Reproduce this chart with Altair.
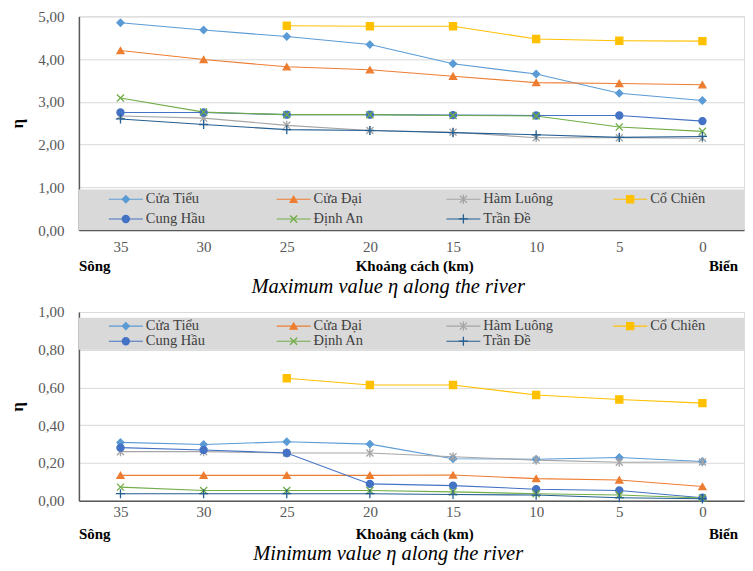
import altair as alt
import pandas as pd

km = [35, 30, 25, 20, 15, 10, 5, 0]
series = ["Cửa Tiểu", "Cửa Đại", "Hàm Luông", "Cổ Chiên", "Cung Hầu", "Định An", "Trần Đề"]
colors = ["#5B9BD5", "#ED7D31", "#A5A5A5", "#FFC000", "#4472C4", "#70AD47", "#255E91"]
ASTER = "M-1,-1L1,1M-1,1L1,-1M0,-1.3L0,1.3"
XSHAPE = "M-1,-1L1,1M-1,1L1,-1"
PLUS = "M-1.3,0L1.3,0M0,-1.3L0,1.3"
shapes = ["diamond", "triangle-up", ASTER, "square", "circle", XSHAPE, PLUS]

# Maximum values
max_cua_tieu = [4.85, 4.68, 4.53, 4.34, 3.89, 3.65, 3.20, 3.03]
max_cua_dai = [4.20, 3.99, 3.82, 3.75, 3.60, 3.45, 3.43, 3.40]
max_ham_luong = [2.67, 2.62, 2.45, 2.33, 2.29, 2.16, 2.16, 2.15]
max_co_chien = [None, None, 4.78, 4.77, 4.77, 4.47, 4.43, 4.42]
max_cung_hau = [2.75, 2.75, 2.70, 2.70, 2.69, 2.68, 2.68, 2.55]
max_dinh_an = [3.09, 2.76, 2.70, 2.70, 2.68, 2.67, 2.41, 2.31]
max_tran_de = [2.60, 2.47, 2.35, 2.33, 2.28, 2.23, 2.17, 2.19]

# Minimum values
min_cua_tieu = [0.309, 0.298, 0.312, 0.300, 0.222, 0.220, 0.229, 0.208]
min_cua_dai = [0.134, 0.134, 0.134, 0.134, 0.136, 0.117, 0.110, 0.075]
min_ham_luong = [0.260, 0.260, 0.253, 0.253, 0.233, 0.215, 0.204, 0.205]
min_co_chien = [None, None, 0.649, 0.613, 0.613, 0.560, 0.536, 0.517]
min_cung_hau = [0.281, 0.269, 0.253, 0.089, 0.080, 0.061, 0.054, 0.016]
min_dinh_an = [0.072, 0.054, 0.054, 0.054, 0.047, 0.037, 0.030, 0.014]
min_tran_de = [0.037, 0.037, 0.037, 0.037, 0.033, 0.030, 0.016, 0.010]

max_ticks = [0, 1, 2, 3, 4, 5]
min_ticks = [0, 0.2, 0.4, 0.6, 0.8, 1.0]

max_all = [max_cua_tieu, max_cua_dai, max_ham_luong, max_co_chien, max_cung_hau, max_dinh_an, max_tran_de]
min_all = [min_cua_tieu, min_cua_dai, min_ham_luong, min_co_chien, min_cung_hau, min_dinh_an, min_tran_de]

SERIF = "Liberation Serif, Times New Roman, serif"


def long_df(values):
    rows = []
    for s, vals in zip(series, values):
        for k, v in zip(km, vals):
            if v is not None:
                rows.append({"series": s, "km": k, "v": v})
    return pd.DataFrame(rows)


# legend layout (pixel offsets inside plot area)
leg_col_x = [30, 198, 368, 535]
leg_rows = [0, 0, 0, 0, 1, 1, 1]
leg_cols = [0, 1, 2, 3, 0, 1, 2]


def panel(values, W, H, ymax, ticks, band, row_y, caption, lab_pad, row_dy, cap_dy):
    df = long_df(values)
    color_scale = alt.Scale(domain=series, range=colors)
    shape_scale = alt.Scale(domain=series, range=shapes)
    yscale = alt.Scale(domain=[0, ymax], nice=False, zero=True)
    xscale = alt.Scale(domain=[-2.5, 37.5], reverse=True, nice=False, zero=False)
    xaxis = alt.Axis(values=km, title=None, grid=False, ticks=False,
                     labelFont=SERIF, labelFontSize=15, labelColor="#595959", labelPadding=lab_pad,
                     domainColor="#595959", domainWidth=1.5)
    yaxis = alt.Axis(values=ticks, labelOverlap=False,
                     labelExpr="replace(format(datum.value, '.2f'), '.', ',')",
                     title="η", titleFont=SERIF, titleFontSize=17, titleFontWeight="bold",
                     titleColor="#000000", titlePadding=11,
                     labelFont=SERIF, labelFontSize=15, labelColor="#595959", labelPadding=15,
                     ticks=False, gridColor="#d9d9d9", domainColor="#595959", domainWidth=1.5)

    bg = alt.Chart(pd.DataFrame({"a": [band[0]], "b": [band[1]]})).mark_rect(color="#d9d9d9").encode(
        x=alt.value(0), x2=alt.value(W), y=alt.Y("a:Q", scale=yscale, axis=yaxis), y2="b:Q")

    lines = alt.Chart(df).mark_line(strokeWidth=1.1).encode(
        x=alt.X("km:Q", scale=xscale, axis=xaxis), y=alt.Y("v:Q", scale=yscale, axis=yaxis),
        color=alt.Color("series:N", scale=color_scale, legend=None),
        detail="series:N")
    pts = alt.Chart(df).mark_point(filled=True, size=50, strokeWidth=1.3, opacity=1).encode(
        x=alt.X("km:Q", scale=xscale, axis=xaxis), y=alt.Y("v:Q", scale=yscale, axis=yaxis),
        color=alt.Color("series:N", scale=color_scale, legend=None),
        stroke=alt.Stroke("series:N", scale=color_scale, legend=None),
        shape=alt.Shape("series:N", scale=shape_scale, legend=None))

    ldf = pd.DataFrame({
        "series": series,
        "x1": [leg_col_x[c] for c in leg_cols],
        "x2": [leg_col_x[c] + 34 for c in leg_cols],
        "xm": [leg_col_x[c] + 17 for c in leg_cols],
        "xt": [leg_col_x[c] + 37 for c in leg_cols],
        "ly": [row_y[r] for r in leg_rows],
    })
    px = alt.Scale(domain=[0, W], nice=False, zero=False)
    lrule = alt.Chart(ldf).mark_rule(strokeWidth=1.1).encode(
        x=alt.X("x1:Q", scale=px, axis=None), x2="x2:Q", y=alt.Y("ly:Q", scale=yscale, axis=yaxis),
        color=alt.Color("series:N", scale=color_scale, legend=None))
    lpt = alt.Chart(ldf).mark_point(filled=True, size=50, strokeWidth=1.3, opacity=1).encode(
        x=alt.X("xm:Q", scale=px, axis=None), y=alt.Y("ly:Q", scale=yscale, axis=yaxis),
        color=alt.Color("series:N", scale=color_scale, legend=None),
        stroke=alt.Stroke("series:N", scale=color_scale, legend=None),
        shape=alt.Shape("series:N", scale=shape_scale, legend=None))
    ltxt = alt.Chart(ldf).mark_text(align="left", baseline="middle", font=SERIF, fontSize=14.5,
                                    color="#404040").encode(
        x=alt.X("xt:Q", scale=px, axis=None), y=alt.Y("ly:Q", scale=yscale, axis=yaxis), text="series:N")

    def label(t, x, align):
        return alt.Chart(pd.DataFrame({"t": [t]})).mark_text(
            align=align, baseline="middle", font=SERIF, fontSize=15, fontWeight="bold",
            color="#000000").encode(x=alt.value(x), y=alt.value(H + row_dy), text="t:N")

    song = label("Sông", 0, "left")
    kc = label("Khoảng cách (km)", W * 0.505, "center")
    bien = label("Biển", W - 6, "right")
    cap = alt.Chart(pd.DataFrame({"t": [caption]})).mark_text(
        align="center", baseline="middle", font=SERIF, fontSize=20.5, fontStyle="italic", color="#000000").encode(
        x=alt.value(W * 0.465), y=alt.value(H + cap_dy), text="t:N")

    main = alt.layer(bg, lines, pts)
    leg = alt.layer(lrule, lpt, ltxt)
    return alt.layer(main, leg, song, kc, bien, cap).resolve_scale(x="independent").properties(width=W, height=H)


top = panel(max_all, 666, 214, 5.0, max_ticks, (0, 0.95), [0.72, 0.26],
            "Maximum value  η along the river", 9, 36, 57)
bottom = panel(min_all, 666, 189, 1.0, min_ticks, (0.80, 0.97), [0.925, 0.845],
               "Minimum value  η along the river", 4, 33, 53)

chart = alt.vconcat(top, bottom, spacing=6).properties(
    padding={"left": 0, "top": 0, "right": 0, "bottom": 0}
).configure_view(stroke="#a6a6a6", strokeWidth=1).configure(background="white", font=SERIF)

chart.save("out.html", embed_options={"renderer": "svg", "actions": False})
